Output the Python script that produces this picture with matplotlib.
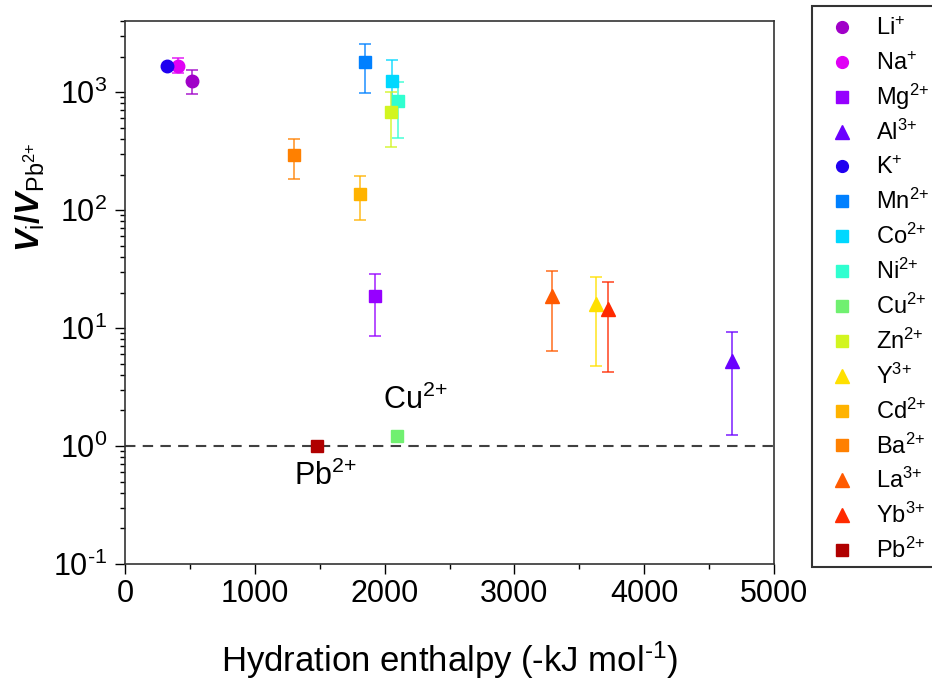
import math
import matplotlib
matplotlib.use("Agg")
import matplotlib.pyplot as plt
import matplotlib.ticker as mticker
from matplotlib.lines import Line2D
from matplotlib.patches import Rectangle

plt.rcParams["font.family"] = ["Liberation Sans", "DejaVu Sans"]
plt.rcParams["mathtext.fontset"] = "custom"
plt.rcParams["mathtext.rm"] = "Liberation Sans"
plt.rcParams["mathtext.it"] = "Liberation Sans:italic"
plt.rcParams["mathtext.bf"] = "Liberation Sans:bold"
plt.rcParams["mathtext.bfit"] = "Liberation Sans:bold:italic"
plt.rcParams["axes.unicode_minus"] = False

# data
ions = ["Li$^{\\text{+}}$", "Na$^{\\text{+}}$", "Mg$^{\\text{2+}}$", "Al$^{\\text{3+}}$",
        "K$^{\\text{+}}$", "Mn$^{\\text{2+}}$", "Co$^{\\text{2+}}$", "Ni$^{\\text{2+}}$",
        "Cu$^{\\text{2+}}$", "Zn$^{\\text{2+}}$", "Y$^{\\text{3+}}$", "Cd$^{\\text{2+}}$",
        "Ba$^{\\text{2+}}$", "La$^{\\text{3+}}$", "Yb$^{\\text{3+}}$", "Pb$^{\\text{2+}}$"]
enthalpy = [514, 406, 1926, 4674, 321, 1849, 2054, 2106, 2096, 2047, 3629, 1810,
            1304, 3292, 3724, 1477]
ratio = [1236, 1675, 18.8, 5.3, 1675, 1786, 1236, 838, 1.22, 681, 15.9, 138,
         290, 18.7, 14.5, 1.0]
err_low = [955, 1443, 8.6, 1.24, None, 985, 626, 411, 1.17, 343, 4.75, 82,
           184, 6.4, 4.2, None]
err_high = [1528, 1940, 28.7, 9.2, None, 2548, 1884, 1211, 1.32, 1004, 26.9, 195,
            398, 30.4, 24.6, None]
markers = ["o", "o", "s", "^", "o", "s", "s", "s", "s", "s", "^", "s",
           "s", "^", "^", "s"]
colors = ["#A000C8", "#E000F5", "#9600FF", "#6A00FF", "#2000F0", "#0080FF",
          "#00D8FF", "#30FFD0", "#70F070", "#D2F520", "#FFE000", "#FFB300",
          "#FF8000", "#FF5A00", "#FF2A00", "#B00000"]
msize = {"o": 9, "s": 8.5, "^": 10}

W, H = 932, 681


def log_fmt(v, _):
    exp = int(round(math.log10(v)))
    e = f"\\text{{-}}{-exp}" if exp < 0 else f"{exp}"
    return f"10$^{{{e}}}$"


fig = plt.figure(figsize=(W / 100, H / 100), dpi=100)
ax = fig.add_axes([125 / W, 1 - 564 / H, 649 / W, 543 / H])

ax.axhline(1.0, color="#404040", linewidth=1.5, linestyle=(0, (5, 3.5)), zorder=1)

for x, y, lo, hi, m, c in zip(enthalpy, ratio, err_low, err_high, markers, colors):
    if lo is not None:
        ax.errorbar([x], [y], yerr=[[y - lo], [hi - y]], fmt="none", ecolor=c,
                    alpha=0.75, elinewidth=1.3, capsize=4.3, capthick=1.3, zorder=2)
    ax.plot([x], [y], marker=m, color=c, markersize=msize[m], linestyle="none", zorder=3)

ax.set_yscale("log")
ax.set_xlim(0, 5000)
ax.set_ylim(0.1, 4000)
ax.xaxis.set_major_locator(mticker.MultipleLocator(1000))
ax.xaxis.set_minor_locator(mticker.MultipleLocator(500))
ax.yaxis.set_major_locator(mticker.LogLocator(base=10, numticks=10))
ax.yaxis.set_minor_locator(mticker.LogLocator(base=10, subs=range(2, 10), numticks=10))
ax.yaxis.set_major_formatter(mticker.FuncFormatter(log_fmt))

ax.tick_params(which="major", direction="out", length=7, width=1, labelsize=22, pad=4)
ax.tick_params(which="minor", direction="out", length=3.6, width=1)
ax.tick_params(axis="y", which="major", pad=6)
for s in ax.spines.values():
    s.set_linewidth(1.2)
    s.set_color("#333333")

ax.set_xlabel("Hydration enthalpy (-kJ mol$^{\\text{-1}}$)", fontsize=25, labelpad=22)
ax.set_ylabel(r"$\mathbfit{V}_{\mathrm{i}}\mathbf{/}\mathbfit{V}_{\mathrm{Pb}^{\text{2+}}}$", fontsize=24)
ax.yaxis.set_label_coords(-0.12, 0.675)

ax.text(2234, 2.45, "Cu$^{\\text{2+}}$", fontsize=22, ha="center", va="center")
ax.text(1541, 0.55, "Pb$^{\\text{2+}}$", fontsize=22, ha="center", va="center")

# legend: box runs off the right edge of the picture, rows evenly spaced
fig.patches.append(Rectangle((812 / W, 1 - 567 / H), 0.2, 561 / H,
                             transform=fig.transFigure, facecolor="white",
                             edgecolor="#333333", linewidth=1.5, zorder=0))
row0, step = 27, (550 - 27) / (len(ions) - 1)
for i, (lab, m, c) in enumerate(zip(ions, markers, colors)):
    yc = row0 + i * step
    fig.add_artist(Line2D([842 / W], [1 - yc / H], marker=m, color=c,
                          markersize=msize[m] - 0.5, linestyle="none",
                          transform=fig.transFigure))
    fig.text(876 / W, 1 - (yc + 8) / H, lab, fontsize=17, ha="left", va="baseline")

fig.savefig("out.png", dpi=100)
